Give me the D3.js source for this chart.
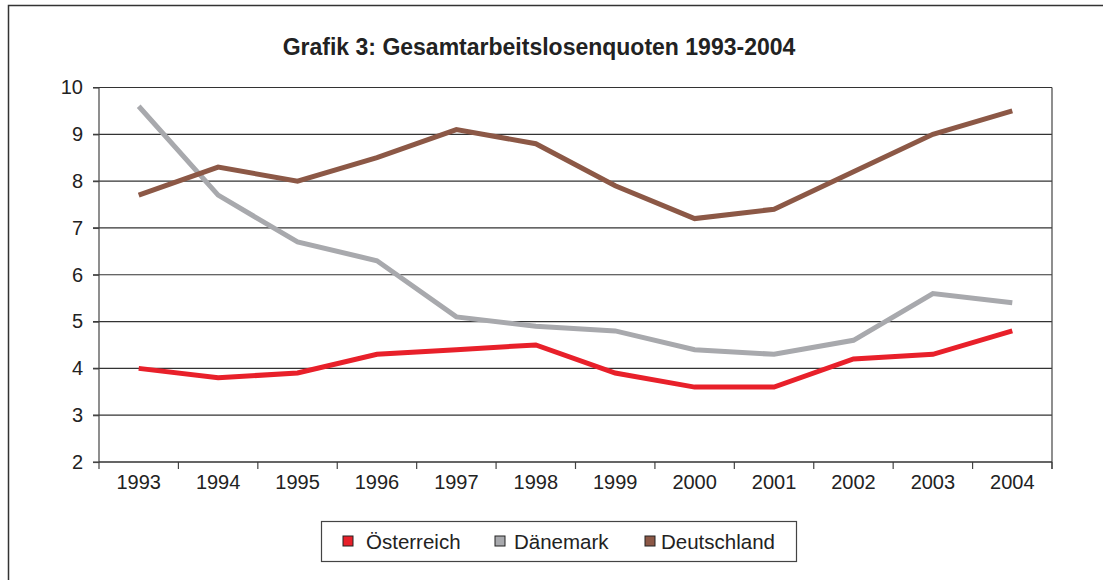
<!DOCTYPE html>
<html>
<head>
<meta charset="utf-8">
<script src="https://cdn.jsdelivr.net/npm/d3@7"></script>
<style>
  body { margin: 0; background: #fff; }
  svg { font-family: "Liberation Sans", Arial, Helvetica, sans-serif; }
</style>
</head>
<body>
<div id="chart"></div>
<script>
const WIDTH = 1103
const HEIGHT = 580
const LEFT = 99
const RIGHT = 1052
const TOP = 87.5
const BOTTOM = 462

const YEARS = ['1993', '1994', '1995', '1996', '1997', '1998', '1999', '2000', '2001', '2002', '2003', '2004']
const Y_TICKS = [2, 3, 4, 5, 6, 7, 8, 9, 10]
const SERIES_NAMES = ['Österreich', 'Dänemark', 'Deutschland']
const SERIES_COLORS = ['#e8202a', '#a8a9ad', '#8c5846']
const OESTERREICH = [4.0, 3.8, 3.9, 4.3, 4.4, 4.5, 3.9, 3.6, 3.6, 4.2, 4.3, 4.8]
const DAENEMARK = [9.6, 7.7, 6.7, 6.3, 5.1, 4.9, 4.8, 4.4, 4.3, 4.6, 5.6, 5.4]
const DEUTSCHLAND = [7.7, 8.3, 8.0, 8.5, 9.1, 8.8, 7.9, 7.2, 7.4, 8.2, 9.0, 9.5]

const main = _ => {
    const seriesValues = [OESTERREICH, DAENEMARK, DEUTSCHLAND]

    const svg = d3.select('#chart')
        .append('svg')
        .attr('width', WIDTH)
        .attr('height', HEIGHT)

    // outer frame (only top and left visible, runs off the picture)
    svg.append('rect')
        .attr('x', 8.5).attr('y', 5.5)
        .attr('width', WIDTH + 20).attr('height', HEIGHT + 20)
        .attr('fill', 'none')
        .attr('stroke', '#333')
        .attr('stroke-width', 1.5)

    svg.append('text')
        .attr('x', 539)
        .attr('y', 55)
        .attr('text-anchor', 'middle')
        .attr('font-size', 23)
        .attr('font-weight', 'bold')
        .attr('fill', '#222')
        .text('Grafik 3: Gesamtarbeitslosenquoten 1993-2004')

    const x = d3.scaleBand()
        .domain(YEARS)
        .range([LEFT, RIGHT])

    const y = d3.scaleLinear()
        .domain([2, 10])
        .range([BOTTOM, TOP])

    // horizontal gridlines
    svg.append('g')
        .selectAll('line')
        .data(Y_TICKS)
        .enter()
        .append('line')
        .attr('x1', LEFT - 6)
        .attr('x2', RIGHT)
        .attr('y1', d => y(d))
        .attr('y2', d => y(d))
        .attr('stroke', '#333')
        .attr('stroke-width', 1.2)

    // right border of plot
    svg.append('line')
        .attr('x1', RIGHT).attr('x2', RIGHT)
        .attr('y1', TOP).attr('y2', BOTTOM + 7)
        .attr('stroke', '#444')
        .attr('stroke-width', 1.2)

    const yAxis = d3.axisLeft(y)
        .tickValues(Y_TICKS)
        .tickSize(6)
        .tickPadding(10)

    svg.append('g')
        .attr('transform', `translate(${LEFT}, 0)`)
        .call(yAxis)
        .call(g => g.selectAll('path, line').attr('stroke', '#444').attr('stroke-width', 1.2))
        .call(g => g.select('.domain').attr('d', `M0,${TOP}V${BOTTOM}`))
        .call(g => g.selectAll('text').attr('font-size', 20).attr('fill', '#222').attr('font-family', '"Liberation Sans", Arial, sans-serif'))

    // x axis ticks on band boundaries
    const boundaries = YEARS.map(d => x(d)).concat([RIGHT])
    svg.append('g')
        .selectAll('line')
        .data(boundaries)
        .enter()
        .append('line')
        .attr('x1', d => d).attr('x2', d => d)
        .attr('y1', BOTTOM).attr('y2', BOTTOM + 7)
        .attr('stroke', '#444')
        .attr('stroke-width', 1.2)

    svg.append('line')
        .attr('x1', LEFT).attr('x2', RIGHT)
        .attr('y1', BOTTOM).attr('y2', BOTTOM)
        .attr('stroke', '#333')
        .attr('stroke-width', 1.2)

    svg.append('g')
        .selectAll('text')
        .data(YEARS)
        .enter()
        .append('text')
        .attr('x', d => x(d) + x.bandwidth() / 2)
        .attr('y', 489)
        .attr('text-anchor', 'middle')
        .attr('font-size', 20)
        .attr('fill', '#222')
        .text(d => d)

    const line = d3.line()
        .x((d, i) => x(YEARS[i]) + x.bandwidth() / 2)
        .y(d => y(d))

    svg.append('g')
        .selectAll('path')
        .data(seriesValues)
        .enter()
        .append('path')
        .attr('d', line)
        .attr('fill', 'none')
        .attr('stroke', (d, i) => SERIES_COLORS[i])
        .attr('stroke-width', 5)
        .attr('stroke-linejoin', 'miter')

    // legend
    const legend = svg.append('g')
    legend.append('rect')
        .attr('x', 321.5).attr('y', 521.5)
        .attr('width', 475).attr('height', 40)
        .attr('fill', '#fff')
        .attr('stroke', '#444')
        .attr('stroke-width', 1.2)

    const legendX = [343, 495, 645]
    const items = legend.selectAll('g.item')
        .data(SERIES_NAMES)
        .enter()
        .append('g')
        .attr('class', 'item')
        .attr('transform', (d, i) => `translate(${legendX[i]}, 541)`)

    items.append('rect')
        .attr('x', 0).attr('y', -5)
        .attr('width', 10).attr('height', 10)
        .attr('fill', (d, i) => SERIES_COLORS[i])
        .attr('stroke', '#222')
        .attr('stroke-width', 1)

    items.append('text')
        .attr('x', (d, i) => [23, 19, 16][i])
        .attr('y', 7.5)
        .attr('font-size', 20.5)
        .attr('fill', '#222')
        .text(d => d)
}

document.addEventListener('DOMContentLoaded', main)
</script>
</body>
</html>
